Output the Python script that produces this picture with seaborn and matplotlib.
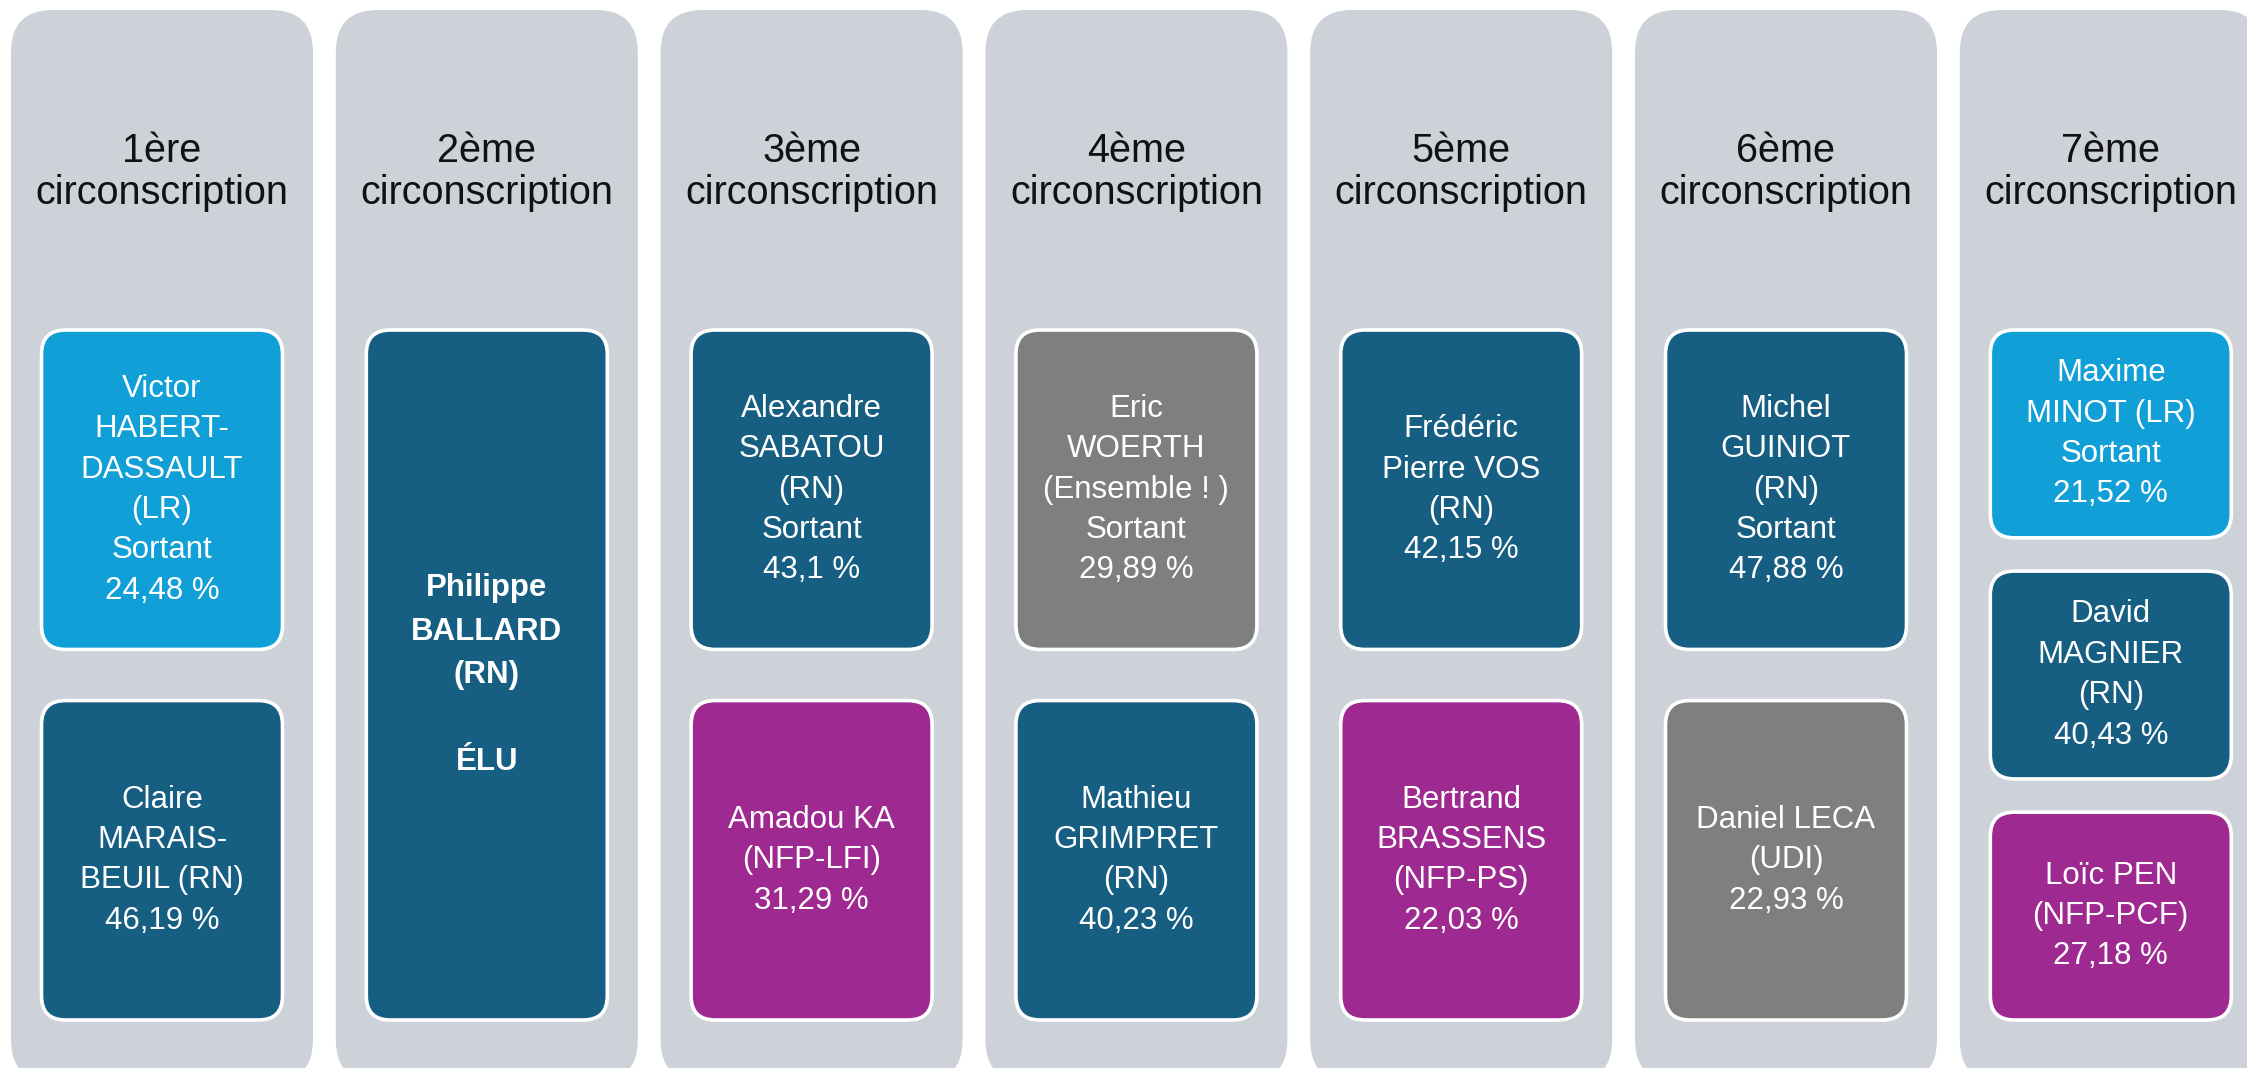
import matplotlib
matplotlib.use("Agg")
import matplotlib.pyplot as plt
from matplotlib.patches import FancyBboxPatch
import seaborn as sns

# --- data -------------------------------------------------------------
districts = ["1ère", "2ème", "3ème", "4ème", "5ème", "6ème", "7ème"]

# one entry per candidate box, in drawing order (top to bottom)
cand_district = [0, 0, 1, 2, 2, 3, 3, 4, 4, 5, 5, 6, 6, 6]
cand_text = [
    "Victor\nHABERT-\nDASSAULT\n(LR)",
    "Claire\nMARAIS-\nBEUIL (RN)",
    "Philippe\nBALLARD\n(RN)",
    "Alexandre\nSABATOU\n(RN)",
    "Amadou KA\n(NFP-LFI)",
    "Eric\nWOERTH\n(Ensemble ! )",
    "Mathieu\nGRIMPRET\n(RN)",
    "Frédéric\nPierre VOS\n(RN)",
    "Bertrand\nBRASSENS\n(NFP-PS)",
    "Michel\nGUINIOT\n(RN)",
    "Daniel LECA\n(UDI)",
    "Maxime\nMINOT (LR)",
    "David\nMAGNIER\n(RN)",
    "Loïc PEN\n(NFP-PCF)",
]
cand_party = ["LR", "RN", "RN", "RN", "NFP", "ENS", "RN", "RN", "NFP", "RN", "UDI", "LR", "RN", "NFP"]
cand_sortant = [True, False, False, True, False, True, False, False, False, True, False, True, False, False]
cand_elected = [False, False, True, False, False, False, False, False, False, False, False, False, False, False]
cand_score = [24.48, 46.19, None, 43.1, 31.29, 29.89, 40.23, 42.15, 22.03, 47.88, 22.93, 21.52, 40.43, 27.18]

party_colors = {"LR": "#109fd6", "RN": "#175f82", "ENS": "#7f7f7f", "UDI": "#7f7f7f", "NFP": "#9e2a91"}

# --- layout (pixels) --------------------------------------------------
W, H = 2247, 1068
COL_X0, COL_PITCH, COL_W = 11, 324.8, 302
COL_TOP, COL_BOTTOM, COL_R = 10, 1082, 42
BOX_TOP, BOX_BOTTOM, BOX_W, BOX_R = 330, 1020, 241, 24
GAP_FRAC = 0.16

sns.set_theme(style="white")
plt.rcParams["font.family"] = ["Liberation Sans", "DejaVu Sans"]

fig = plt.figure(figsize=(W / 100, H / 100), dpi=100)
ax = fig.add_axes([0, 0, 1, 1])
ax.set_xlim(0, W)
ax.set_ylim(H, 0)
ax.axis("off")

for i, d in enumerate(districts):
    x0 = COL_X0 + i * COL_PITCH
    ax.add_patch(FancyBboxPatch((x0 + COL_R, COL_TOP + COL_R), COL_W - 2 * COL_R,
                                COL_BOTTOM - COL_TOP - 2 * COL_R,
                                boxstyle=f"round,pad={COL_R}", fc="#cdd2d9", ec="none"))
    ax.text(x0 + COL_W / 2, 172, f"{d}\ncirconscription", ha="center", va="center",
            fontsize=28.5, linespacing=1.12, color="#111111")

    idx = [k for k, c in enumerate(cand_district) if c == i]
    n = len(idx)
    bh = (BOX_BOTTOM - BOX_TOP) / (n + GAP_FRAC * (n - 1))
    for j, k in enumerate(idx):
        bx = x0 + (COL_W - BOX_W) / 2
        by = BOX_TOP + j * bh * (1 + GAP_FRAC)
        ax.add_patch(FancyBboxPatch((bx + BOX_R, by + BOX_R), BOX_W - 2 * BOX_R, bh - 2 * BOX_R,
                                    boxstyle=f"round,pad={BOX_R}",
                                    fc=party_colors[cand_party[k]], ec="white", lw=2.6))
        label = cand_text[k]
        if cand_sortant[k]:
            label += "\nSortant"
        if cand_score[k] is not None:
            label += "\n" + str(cand_score[k]).replace(".", ",") + " %"
        if cand_elected[k]:
            label += "\n\nÉLU"
        ax.text(bx + BOX_W / 2, by + bh / 2, label, ha="center", va="center",
                fontsize=22.5, linespacing=1.58 if cand_elected[k] else 1.45, color="white",
                fontweight="bold" if cand_elected[k] else "normal")

fig.savefig("out.png", dpi=100, facecolor="white")
